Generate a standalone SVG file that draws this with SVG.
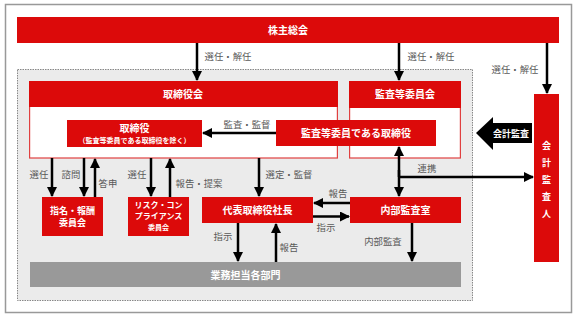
<svg xmlns="http://www.w3.org/2000/svg" width="584" height="318" viewBox="0 0 584 318">
<style>
.red{fill:#dc0a0a}
.body{fill:#fff;stroke:#e04040;stroke-width:1.2}
.w{fill:#fff;font-family:"Noto Sans CJK JP","Noto Sans",sans-serif;font-weight:bold;text-anchor:middle}
.lb{fill:#595959;font-family:"Noto Sans CJK JP","Noto Sans",sans-serif;font-size:9.4px;text-anchor:middle}
.ln{stroke:#000;stroke-width:2.5;fill:none}
</style>
<defs>
<marker id="ah" viewBox="0 0 10 10" refX="9" refY="5" markerWidth="4" markerHeight="4" markerUnits="strokeWidth" orient="auto">
<path d="M0,0 L10,5 L0,10 z" fill="#000"/>
</marker>
</defs>
<rect x="5.5" y="4.5" width="566" height="308" fill="#fff" stroke="#999" stroke-width="1.5"/>
<rect x="17.5" y="69.5" width="455" height="231" fill="#ebebeb" stroke="#888" stroke-width="1" stroke-dasharray="1.5,1"/>

<g id="shareholders">
<rect class="red" x="17" y="17" width="542" height="26"/>
<text class="w" x="288" y="34" font-size="10">株主総会</text>
</g>

<g id="board">
<rect class="body" x="29.6" y="81.6" width="307.8" height="76.4"/>
<rect class="red" x="29" y="81" width="309" height="26"/>
<text class="w" x="183" y="98" font-size="10">取締役会</text>
</g>

<g id="directors">
<rect class="red" x="67" y="120" width="135" height="27"/>
<text class="w" x="134.5" y="132" font-size="10">取締役</text>
<text class="w" x="134.5" y="142.5" font-size="7">（監査等委員である取締役を除く）</text>
</g>

<g id="audit-committee">
<rect class="body" x="349.6" y="81.6" width="110.8" height="76.4"/>
<rect class="red" x="349" y="81" width="112" height="27"/>
<text class="w" x="405" y="98" font-size="10">監査等委員会</text>
</g>

<g id="audit-directors">
<rect class="red" x="276" y="120" width="160" height="26"/>
<text class="w" x="356" y="137" font-size="10">監査等委員である取締役</text>
</g>

<g id="auditor">
<rect class="red" x="534" y="94" width="25" height="168"/>
<text class="w" x="546.5" y="149" font-size="9">会</text>
<text class="w" x="546.5" y="166" font-size="9">計</text>
<text class="w" x="546.5" y="183" font-size="9">監</text>
<text class="w" x="546.5" y="200" font-size="9">査</text>
<text class="w" x="546.5" y="217" font-size="9">人</text>
</g>

<g id="accounting-audit">
<path d="M476,133 L493,117 L493,123 L532,123 L532,143 L493,143 L493,150 z" fill="#000"/>
<text class="w" x="511" y="137" font-size="9">会計監査</text>
</g>

<g id="nomination">
<rect class="red" x="42" y="197" width="61" height="39"/>
<text class="w" x="72.5" y="214" font-size="9">指名・報酬</text>
<text class="w" x="72.5" y="226" font-size="9">委員会</text>
</g>

<g id="risk">
<rect class="red" x="128" y="197" width="61" height="39"/>
<text class="w" x="158.5" y="208" font-size="8">リスク・コン</text>
<text class="w" x="158.5" y="219" font-size="8">プライアンス</text>
<text class="w" x="158.5" y="229.5" font-size="7">委員会</text>
</g>

<g id="president">
<rect class="red" x="202" y="197" width="111" height="26"/>
<text class="w" x="257.5" y="214" font-size="10">代表取締役社長</text>
</g>

<g id="internal-audit">
<rect class="red" x="350" y="197" width="111" height="26"/>
<text class="w" x="405.5" y="214" font-size="10">内部監査室</text>
</g>

<g id="departments">
<rect x="30" y="262" width="431" height="25" fill="#999"/>
<text class="w" x="245.5" y="278.5" font-size="10">業務担当各部門</text>
</g>

<g id="connectors">
<line class="ln" x1="197" y1="43" x2="197" y2="80" marker-end="url(#ah)"/>
<line class="ln" x1="399" y1="43" x2="399" y2="80" marker-end="url(#ah)"/>
<line class="ln" x1="547" y1="43" x2="547" y2="93" marker-end="url(#ah)"/>
<line class="ln" x1="276" y1="133" x2="203" y2="133" marker-end="url(#ah)"/>
<line class="ln" x1="52" y1="158" x2="52" y2="196" marker-end="url(#ah)"/>
<line class="ln" x1="84" y1="158" x2="84" y2="196" marker-end="url(#ah)"/>
<line class="ln" x1="95" y1="197" x2="95" y2="159" marker-end="url(#ah)"/>
<line class="ln" x1="151" y1="158" x2="151" y2="196" marker-end="url(#ah)"/>
<line class="ln" x1="170" y1="197" x2="170" y2="159" marker-end="url(#ah)"/>
<line class="ln" x1="259" y1="158" x2="259" y2="196" marker-end="url(#ah)"/>
<line class="ln" x1="399" y1="177" x2="399" y2="147" marker-end="url(#ah)"/>
<line class="ln" x1="399" y1="170" x2="399" y2="196" marker-end="url(#ah)"/>
<line class="ln" x1="398" y1="177" x2="533" y2="177" marker-end="url(#ah)"/>
<line class="ln" x1="350" y1="203" x2="314" y2="203" marker-end="url(#ah)"/>
<line class="ln" x1="313" y1="216.5" x2="349" y2="216.5" marker-end="url(#ah)"/>
<line class="ln" x1="238" y1="223" x2="238" y2="261" marker-end="url(#ah)"/>
<line class="ln" x1="276" y1="262" x2="276" y2="224" marker-end="url(#ah)"/>
<line class="ln" x1="412" y1="223" x2="412" y2="261" marker-end="url(#ah)"/>
</g>

<g id="labels">
<text class="lb" x="228" y="60">選任・解任</text>
<text class="lb" x="431" y="60">選任・解任</text>
<text class="lb" x="515" y="73">選任・解任</text>
<text class="lb" x="247" y="128">監査・監督</text>
<text class="lb" x="39" y="178">選任</text>
<text class="lb" x="71" y="178">諮問</text>
<text class="lb" x="108" y="187">答申</text>
<text class="lb" x="137" y="178">選任</text>
<text class="lb" x="199" y="187">報告・提案</text>
<text class="lb" x="289" y="178">選定・監督</text>
<text class="lb" x="427" y="172">連携</text>
<text class="lb" x="338" y="197">報告</text>
<text class="lb" x="326" y="231">指示</text>
<text class="lb" x="223" y="240">指示</text>
<text class="lb" x="289" y="251">報告</text>
<text class="lb" x="383" y="245">内部監査</text>
</g>
</svg>
